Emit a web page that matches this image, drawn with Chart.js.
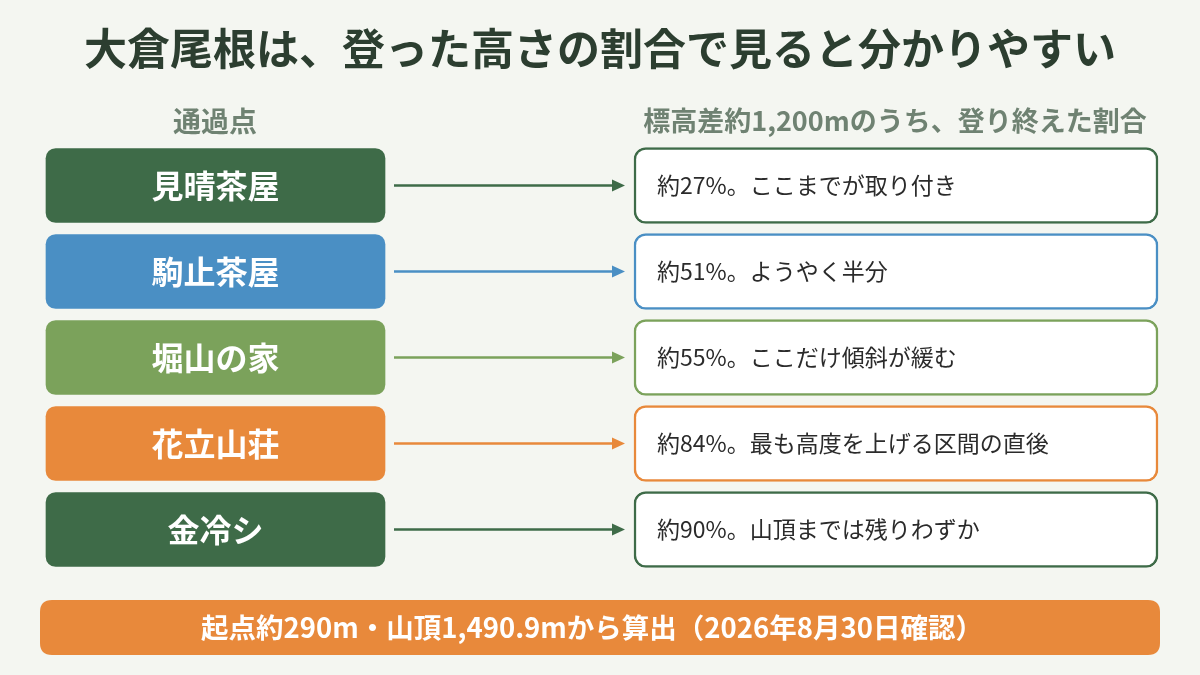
<!DOCTYPE html>
<html lang="ja">
<head>
<meta charset="utf-8">
<title>大倉尾根 登った高さの割合</title>
<script src="https://cdn.jsdelivr.net/npm/chart.js@4.4.1/dist/chart.umd.min.js"></script>
<style>
  html, body { margin: 0; padding: 0; background: #f4f6f1; }
  canvas { display: block; }
</style>
</head>
<body>
<canvas id="ridgeChart" width="1200" height="675"></canvas>
<script>
// data
const stops = ['見晴茶屋', '駒止茶屋', '堀山の家', '花立山荘', '金冷シ'];
const climbedPct = [27, 51, 55, 84, 90];
const notes = ['ここまでが取り付き', 'ようやく半分', 'ここだけ傾斜が緩む', '最も高度を上げる区間の直後', '山頂までは残りわずか'];
const stopColors = ['#3e6b48', '#4a8fc4', '#7ba25b', '#e8893b', '#3e6b48'];

const titleText = '大倉尾根は、登った高さの割合で見ると分かりやすい';
const leftHeader = '通過点';
const rightHeader = '標高差約1,200mのうち、登り終えた割合';
const footerText = '起点約290m・山頂1,490.9mから算出（2026年8月30日確認）';

// layout (pixels on a 0..1200 hidden x scale)
const LEFT_SPAN = [46, 385];
const RIGHT_SPAN = [634, 1158];
const FONT = '"Noto Sans CJK JP", "Noto Sans", sans-serif';
const BG = '#f4f6f1';
const ORANGE = '#e8893b';

function roundRect(ctx, x, y, w, h, r) {
  ctx.beginPath();
  ctx.moveTo(x + r, y);
  ctx.lineTo(x + w - r, y);
  ctx.quadraticCurveTo(x + w, y, x + w, y + r);
  ctx.lineTo(x + w, y + h - r);
  ctx.quadraticCurveTo(x + w, y + h, x + w - r, y + h);
  ctx.lineTo(x + r, y + h);
  ctx.quadraticCurveTo(x, y + h, x, y + h - r);
  ctx.lineTo(x, y + r);
  ctx.quadraticCurveTo(x, y, x + r, y);
  ctx.closePath();
}

const infoPlugin = {
  id: 'info',
  beforeDraw(chart) {
    const ctx = chart.ctx;
    ctx.save();
    ctx.fillStyle = BG;
    ctx.fillRect(0, 0, chart.width, chart.height);

    ctx.textAlign = 'center';
    ctx.textBaseline = 'middle';
    ctx.fillStyle = '#2c3e30';
    ctx.font = 'bold 43px ' + FONT;
    ctx.fillText(titleText, 600, 49);

    ctx.fillStyle = '#6f8272';
    ctx.font = 'bold 28px ' + FONT;
    ctx.fillText(leftHeader, 215, 121);
    ctx.font = 'bold 27px ' + FONT;
    ctx.fillText(rightHeader, 895, 121);

    // footer note
    ctx.fillStyle = ORANGE;
    roundRect(ctx, 40, 600, 1120, 55, 12);
    ctx.fill();
    ctx.fillStyle = '#ffffff';
    ctx.font = 'bold 27.5px ' + FONT;
    ctx.fillText(footerText, 592, 628);
    ctx.restore();
  },
  afterDatasetsDraw(chart) {
    const ctx = chart.ctx;
    const left = chart.getDatasetMeta(0).data;
    const right = chart.getDatasetMeta(1).data;
    ctx.save();
    left.forEach((bar, i) => {
      const y = bar.y;
      // stop name
      ctx.fillStyle = '#ffffff';
      ctx.font = 'bold 32px ' + FONT;
      ctx.textAlign = 'center';
      ctx.textBaseline = 'middle';
      ctx.fillText(stops[i], (bar.base + bar.x) / 2, y);

      // arrow
      const x0 = bar.x + 9;
      const x1 = right[i].base - 9;
      ctx.strokeStyle = stopColors[i];
      ctx.fillStyle = stopColors[i];
      ctx.lineWidth = 2.7;
      ctx.beginPath();
      ctx.moveTo(x0, y);
      ctx.lineTo(x1 - 11, y);
      ctx.stroke();
      ctx.beginPath();
      ctx.moveTo(x1, y);
      ctx.lineTo(x1 - 13, y - 6);
      ctx.lineTo(x1 - 13, y + 6);
      ctx.closePath();
      ctx.fill();

      // share text
      ctx.fillStyle = '#2b2b2b';
      ctx.font = '23px ' + FONT;
      ctx.textAlign = 'left';
      ctx.fillText('約' + climbedPct[i] + '%。' + notes[i], right[i].base + 23, right[i].y);
    });
    ctx.restore();
  }
};

new Chart(document.getElementById('ridgeChart'), {
  type: 'bar',
  data: {
    labels: stops,
    datasets: [
      {
        label: '通過点',
        data: stops.map(() => LEFT_SPAN),
        backgroundColor: stopColors,
        borderRadius: 10,
        borderSkipped: false,
        barThickness: 74,
        grouped: false
      },
      {
        label: '登り終えた割合',
        data: stops.map(() => RIGHT_SPAN),
        backgroundColor: '#ffffff',
        borderColor: stopColors,
        borderWidth: 2.5,
        borderRadius: 12,
        borderSkipped: false,
        barThickness: 76,
        grouped: false
      }
    ]
  },
  options: {
    indexAxis: 'y',
    responsive: false,
    animation: false,
    layout: { padding: { top: 142.5, bottom: 102.5, left: 0, right: 0 } },
    scales: {
      x: { type: 'linear', min: 0, max: 1200, display: false },
      y: { type: 'category', offset: true, display: false }
    },
    plugins: {
      legend: { display: false },
      tooltip: { enabled: false },
      title: { display: false }
    }
  },
  plugins: [infoPlugin]
});
</script>
</body>
</html>
